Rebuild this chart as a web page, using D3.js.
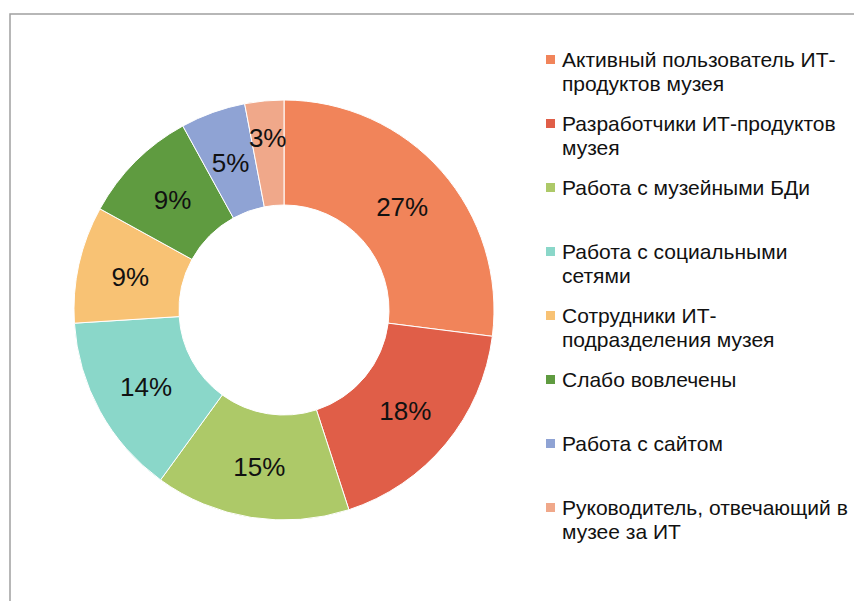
<!DOCTYPE html>
<html>
<head>
<meta charset="utf-8">
<script src="https://cdn.jsdelivr.net/npm/d3@7"></script>
<style>
  body { margin: 0; background: #fff; }
  svg { display: block; font-family: "Liberation Sans", Arial, sans-serif; }
</style>
</head>
<body>
<div id="chart"></div>
<script>
(function() {
"use strict";

// legend names, "\n" marks where the legend text wraps
const CATEGORIES = [
  "Активный пользователь ИТ-\nпродуктов музея",
  "Разработчики ИТ-продуктов\nмузея",
  "Работа с музейными БДи",
  "Работа с социальными\nсетями",
  "Сотрудники ИТ-\nподразделения музея",
  "Слабо вовлечены",
  "Работа с сайтом",
  "Руководитель, отвечающий в\nмузее за ИТ"
];
const VALUES = [27, 18, 15, 14, 9, 9, 5, 3];
const COLORS = ["#f1845a", "#e05e48", "#adc968", "#8ad7c9", "#f8c274", "#5f9b40", "#8fa3d4", "#f0a88a"];

const WIDTH = 854;
const HEIGHT = 601;
const CX = 284;
const CY = 310;
const R_OUT = 210;
const R_IN = 105;

const SVG = d3.select("#chart")
              .append("svg")
              .attr("width", WIDTH)
              .attr("height", HEIGHT);

// chart frame (only left and top edges visible in the crop)
SVG.append("rect")
  .attr("x", 10)
  .attr("y", 14)
  .attr("width", WIDTH + 20)
  .attr("height", HEIGHT + 20)
  .attr("fill", "none")
  .attr("stroke", "#a0a0a0")
  .attr("stroke-width", 1.5);

const data = VALUES.map((v, i) => ({ name: CATEGORIES[i], value: v, color: COLORS[i] }));

const pie = d3.pie().sort(null).value(d => d.value);
const arc = d3.arc().innerRadius(R_IN).outerRadius(R_OUT);
const total = d3.sum(VALUES);

const g = SVG.append("g").attr("transform", `translate(${CX}, ${CY})`);

const arcs = pie(data);

g.selectAll("path")
  .data(arcs)
  .enter()
  .append("path")
    .attr("d", arc)
    .attr("fill", d => d.data.color)
    .attr("stroke", "#fff")
    .attr("stroke-width", 1);

// small slices get their label pushed outward a bit, like Excel does
const labelArc = d3.arc().innerRadius(R_IN).outerRadius(R_OUT);
const outerLabelArc = d3.arc().innerRadius(R_IN + 16).outerRadius(R_OUT + 16);

g.selectAll("text.pct")
  .data(arcs)
  .enter()
  .append("text")
    .attr("class", "pct")
    .attr("transform", d => {
      const c = (d.data.value < 4 ? outerLabelArc : labelArc).centroid(d);
      return `translate(${c[0]}, ${c[1] + 10})`;
    })
    .attr("text-anchor", "middle")
    .attr("font-size", 26)
    .attr("fill", "#111")
    .text(d => Math.round(d.data.value / total * 100) + "%");

// legend
const legendY = d3.scaleLinear().domain([0, 1]).range([60, 124]);

const legend = SVG.append("g")
  .selectAll("g")
  .data(data)
  .enter()
  .append("g")
    .attr("transform", (d, i) => `translate(546, ${legendY(i)})`);

legend.append("rect")
  .attr("x", 0)
  .attr("y", -5)
  .attr("width", 9)
  .attr("height", 9)
  .attr("fill", d => d.color);

legend.append("text")
  .attr("x", 16)
  .attr("y", 7)
  .attr("font-size", 21)
  .attr("fill", "#111")
  .selectAll("tspan")
  .data(d => d.name.split("\n"))
  .enter()
  .append("tspan")
    .attr("x", 16)
    .attr("dy", (d, i) => i === 0 ? 0 : 24)
    .text(d => d);

})();
</script>
</body>
</html>
